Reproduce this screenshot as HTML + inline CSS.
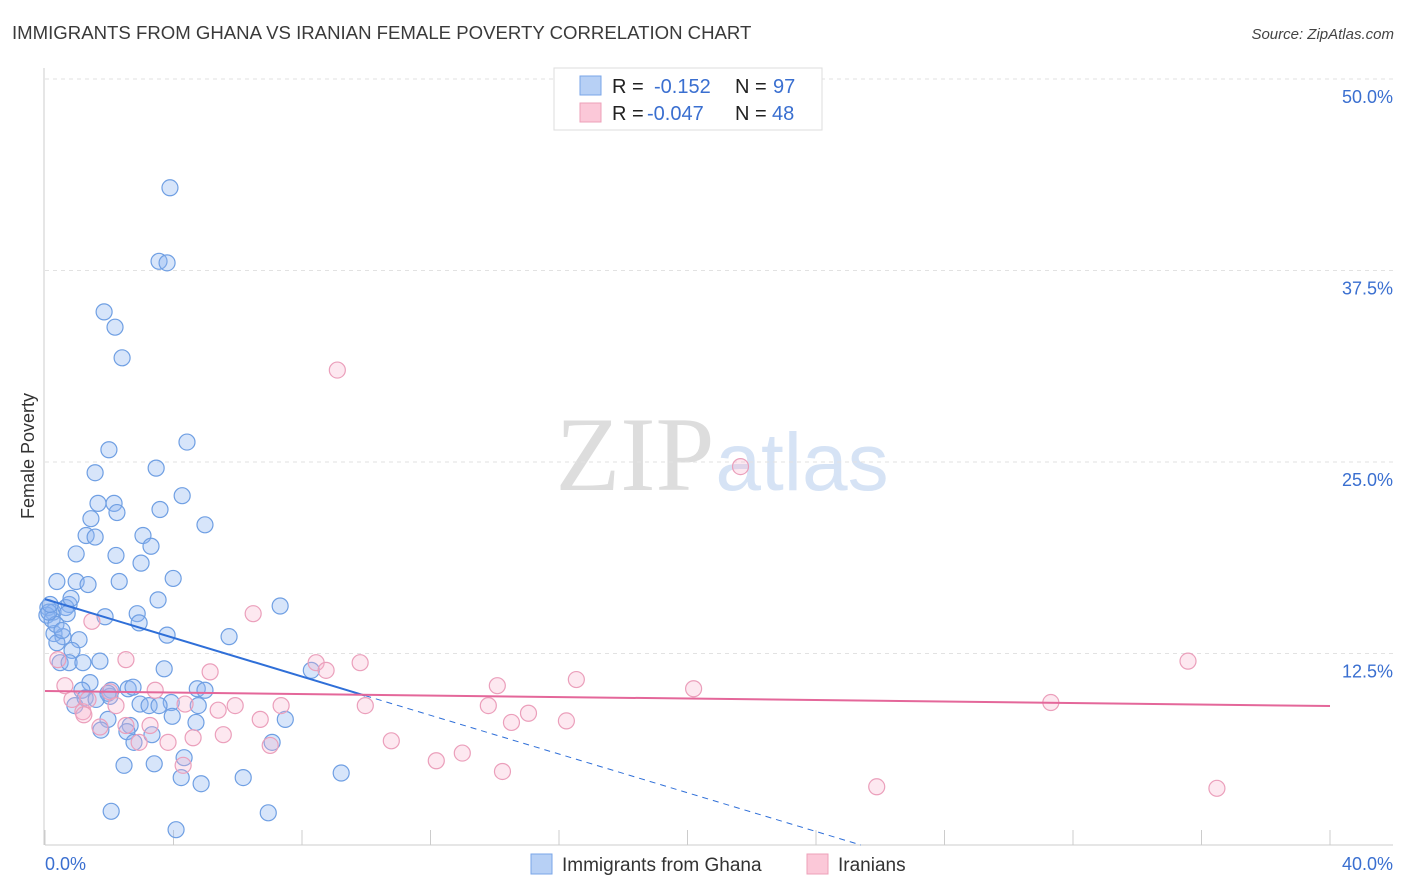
<!DOCTYPE html>
<html><head><meta charset="utf-8"><style>
body{margin:0;background:#fff;font-family:"Liberation Sans",sans-serif}
svg{display:block}
</style></head><body>
<svg id="chart" width="1406" height="892" xmlns="http://www.w3.org/2000/svg">
<text x="12" y="39" font-size="18.6" fill="#3a3a3a">IMMIGRANTS FROM GHANA VS IRANIAN FEMALE POVERTY CORRELATION CHART</text>
<text x="1394" y="39" font-size="15" fill="#444" text-anchor="end" font-style="italic">Source: ZipAtlas.com</text>
<g>
<text x="635" y="490" font-size="106" fill="#ddd" font-family="Liberation Serif" text-anchor="middle">ZIP</text>
<text x="802" y="490" font-size="82" fill="#d6e3f5" text-anchor="middle">atlas</text>
</g>
<g id="grid"></g><g id="axes"></g><g id="marks"></g>
<text transform="translate(34,456) rotate(-90)" font-size="18" fill="#333" text-anchor="middle">Female Poverty</text>
<g>
<rect x="554" y="68" width="268" height="62" fill="#fff" stroke="#ddd"/>
<rect x="580" y="76" width="21" height="19" fill="#b7d0f5" stroke="#7aa6e8"/>
<rect x="580" y="103" width="21" height="19" fill="#fbc8d8" stroke="#eea0b9"/>
<text x="612" y="93" font-size="20" fill="#222">R = <tspan x="654" fill="#3a6fd0">-0.152</tspan><tspan x="735">N = </tspan><tspan x="773" fill="#3a6fd0">97</tspan></text>
<text x="612" y="120" font-size="20" fill="#222">R = <tspan x="647" fill="#3a6fd0">-0.047</tspan><tspan x="735">N = </tspan><tspan x="772" fill="#3a6fd0">48</tspan></text>
</g>
<g>
<rect x="531" y="854" width="21" height="20" fill="#b7d0f5" stroke="#7aa6e8"/>
<text x="562" y="871" font-size="19" fill="#333">Immigrants from Ghana</text>
<rect x="807" y="854" width="21" height="20" fill="#fbc8d8" stroke="#eea0b9"/>
<text x="838" y="871" font-size="19" fill="#333">Iranians</text>
</g>
</svg>
<script>
const yTicks=[12.5,25,37.5,50];
const yTickLabels=["12.5%","25.0%","37.5%","50.0%"];
const xTicks=[0,4,8,12,16,20,24,28,32,36,40];
const ghanaX=[3.89,3.55,3.80,1.84,2.18,2.40,4.42,1.99,3.46,1.56,4.27,1.65,2.15,3.58,1.43,2.24,4.98,1.28,1.56,3.05,3.30,0.97,2.21,2.99,0.37,0.97,1.34,2.31,3.99,3.52,0.75,0.09,0.25,0.65,0.69,1.87,2.87,7.32,2.93,0.28,0.56,1.06,0.37,3.80,5.73,0.84,0.47,0.75,1.18,1.71,3.71,8.29,1.40,1.15,2.06,2.59,2.74,4.74,4.98,2.02,0.93,2.96,3.93,3.24,3.55,4.77,3.96,1.96,2.65,4.70,7.48,1.74,2.55,3.33,2.77,7.07,4.33,2.46,3.40,4.24,6.17,4.86,9.22,2.06,6.95,4.08,0.06,0.22,0.34,0.12,0.53,0.81,0.16,1.25,1.96,1.59];
const ghanaY=[42.9,38.1,38.0,34.8,33.8,31.8,26.3,25.8,24.6,24.3,22.8,22.3,22.3,21.9,21.3,21.7,20.9,20.2,20.1,20.2,19.5,19.0,18.9,18.4,17.2,17.2,17.0,17.2,17.4,16.0,15.7,15.5,15.2,15.5,15.1,14.9,15.1,15.6,14.5,13.8,13.6,13.4,13.2,13.7,13.6,12.7,11.9,11.9,11.9,12.0,11.5,11.4,10.6,10.1,10.1,10.2,10.3,10.2,10.1,9.7,9.1,9.2,9.3,9.1,9.1,9.1,8.4,8.2,7.8,8.0,8.2,7.5,7.4,7.2,6.7,6.7,5.7,5.2,5.3,4.4,4.4,4.0,4.7,2.2,2.1,1.0,15.0,14.7,14.4,15.2,14.0,16.1,15.7,9.6,9.9,9.5];
const iranX=[9.10,21.65,6.48,1.46,35.58,2.52,9.81,8.44,8.75,5.14,16.54,14.08,20.19,0.62,2.02,3.43,4.36,7.35,5.92,0.40,9.97,31.31,13.80,2.21,1.18,5.39,15.05,14.52,16.23,6.70,3.27,2.52,1.71,5.55,4.61,2.93,3.83,10.78,7.01,12.99,12.18,4.30,14.24,25.89,36.48,1.21,0.84,1.34];
const iranY=[31.0,24.7,15.1,14.6,12.0,12.1,11.9,11.9,11.4,11.3,10.8,10.4,10.2,10.4,10.0,10.1,9.2,9.1,9.1,12.1,9.1,9.3,9.1,9.1,8.7,8.8,8.6,8.0,8.1,8.2,7.8,7.8,7.7,7.2,7.0,6.7,6.7,6.8,6.5,6.0,5.5,5.2,4.8,3.8,3.7,8.5,9.5,9.5];
const ghanaTrend=[16.05,-0.632];
const iranTrend=[10.05,-0.0245];
const X0=45,X1=1330,Y0=845,Y1=79;
const sx=v=>X0+(X1-X0)*v/40;
const sy=v=>Y0-(Y0-Y1)*v/50;
const NS="http://www.w3.org/2000/svg";
function mk(tag,attrs,parent){const e=document.createElementNS(NS,tag);for(const k in attrs)e.setAttribute(k,attrs[k]);parent.appendChild(e);return e;}
const grid=document.getElementById('grid'),axes=document.getElementById('axes'),marks=document.getElementById('marks');
yTicks.forEach((t,i)=>{
 const l=mk('line',{x1:X0,x2:1395,y1:sy(t),y2:sy(t),stroke:'#e2e2e2','stroke-dasharray':'4,4'},grid);
 
 
 const tx=mk('text',{x:1393,y:sy(t)+24,'font-size':18,fill:'#3a6fd0','text-anchor':'end'},axes);
 tx.textContent=yTickLabels[i];
 
 
});
let a=mk('line',{x1:44,x2:44,y1:68,y2:Y0,stroke:'#ccc'},axes);


a=mk('line',{x1:X0,x2:1393,y1:Y0,y2:Y0,stroke:'#ccc'},axes);


xTicks.forEach(t=>{
 const l=mk('line',{x1:sx(t),x2:sx(t),y1:Y0-15,y2:Y0,stroke:'#ccc'},axes);
 
 
});
let t0=mk('text',{x:45,y:870,'font-size':18,fill:'#3a6fd0'},axes);t0.textContent='0.0%';


t0=mk('text',{x:1393,y:870,'font-size':18,fill:'#3a6fd0','text-anchor':'end'},axes);t0.textContent='40.0%';


ghanaX.forEach((x,i)=>{
 const c=mk('circle',{cx:sx(x),cy:sy(ghanaY[i]),r:8,fill:'rgba(140,180,240,0.35)',stroke:'#6f9fe3','stroke-width':1.2},marks);
 
 
});
iranX.forEach((x,i)=>{
 const c=mk('circle',{cx:sx(x),cy:sy(iranY[i]),r:8,fill:'rgba(248,180,205,0.3)',stroke:'#eb9fbb','stroke-width':1.2},marks);
 
 
});
const gEnd=-ghanaTrend[0]/ghanaTrend[1];
let tl=mk('line',{x1:sx(0),y1:sy(ghanaTrend[0]),x2:sx(9.97),y2:sy(ghanaTrend[0]+ghanaTrend[1]*9.97),stroke:'#2f6fd8','stroke-width':2},marks);


tl=mk('line',{x1:sx(9.97),y1:sy(ghanaTrend[0]+ghanaTrend[1]*9.97),x2:sx(gEnd),y2:sy(0),stroke:'#2f6fd8','stroke-width':1,'stroke-dasharray':'6,5'},marks);


tl=mk('line',{x1:sx(0),y1:sy(iranTrend[0]),x2:sx(40),y2:sy(iranTrend[0]+iranTrend[1]*40),stroke:'#e4679a','stroke-width':2},marks);


</script>
</body></html>
